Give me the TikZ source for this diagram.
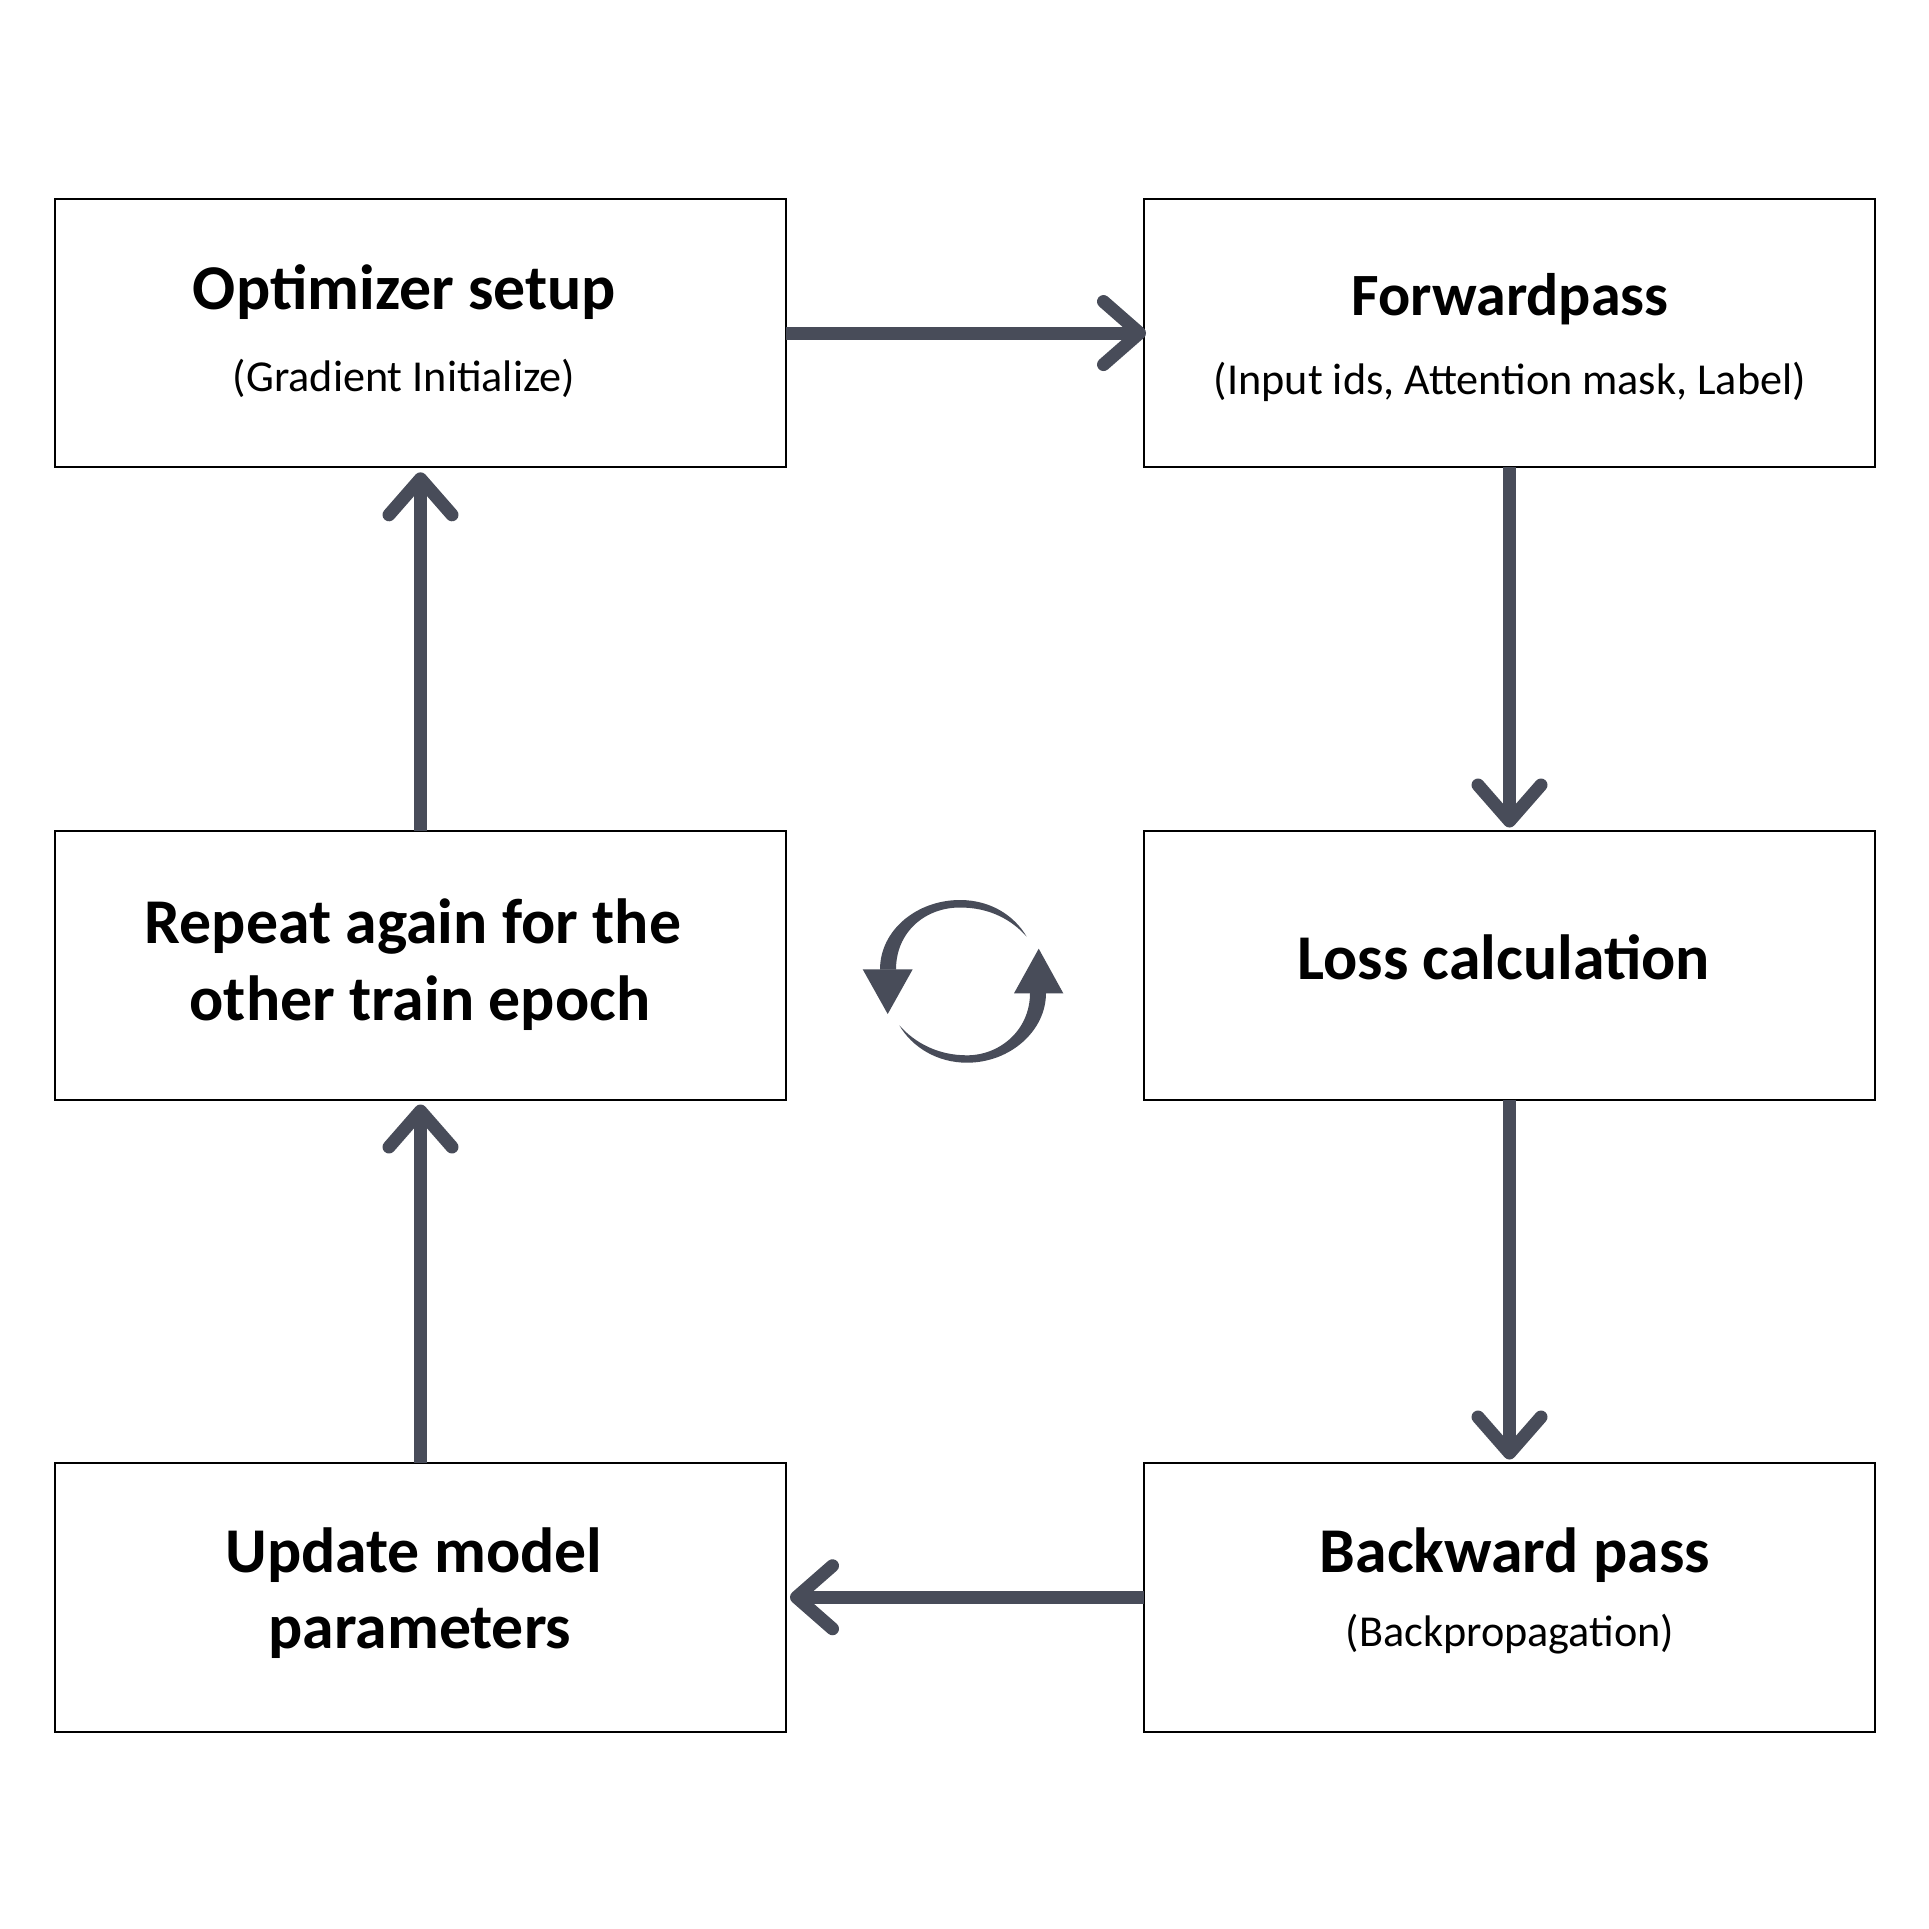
\documentclass[tikz,border=0pt]{standalone}
\usepackage{fontspec}
\setmainfont{Carlito}
\usetikzlibrary{arrows.meta}
\definecolor{slate}{HTML}{484C59}
\tikzset{
  stage/.style={draw=black,line width=2pt,fill=white,minimum width=731pt,minimum height=268.5pt,inner sep=0pt,outer sep=0pt,anchor=north west},
  headline/.style={font=\fontsize{63.8}{64}\selectfont\bfseries,anchor=base,inner sep=0pt},
  subline/.style={font=\fontsize{44.2}{44}\selectfont,anchor=base,inner sep=0pt},
  flow/.style={draw=slate,line width=13pt,-{Straight Barb[length=36pt,width=63pt,line width=13pt,round]}},
  turn/.style={fill=slate,draw=none}
}
\begin{document}
\begin{tikzpicture}[x=1pt,y=-1pt]
\useasboundingbox (0,0) rectangle (1929,1929);
\fill[white] (0,0) rectangle (1929,1929);

% process stages
\node[stage] (opt) at (55,198.8) {};
\node[stage] (fwd) at (1144,198.8) {};
\node[stage] (rep) at (55,831) {};
\node[stage] (loss) at (1144,831) {};
\node[stage] (upd) at (55,1463) {};
\node[stage] (back) at (1144,1463) {};

% stage labels
\node[headline] (optT) at (404.5,309.5) {Optimizer setup};
\node[subline] (optS) at (404,391.5) {(Gradient Initialize)};
\node[headline,font=\fontsize{60}{60}\selectfont\bfseries] (fwdT) at (1510,315.5) {Forwardpass};
\node[subline] (fwdS) at (1510,394.5) {(Input ids, Attention mask, Label)};
\node[headline] (repA) at (413,943.5) {Repeat again for the};
\node[headline] (repB) at (420,1020) {other train epoch};
\node[headline] (lossT) at (1503.5,979) {Loss calculation};
\node[headline] (updA) at (414,1572) {Update model};
\node[headline] (updB) at (420,1648.5) {parameters};
\node[headline] (backT) at (1515,1572) {Backward pass};
\node[subline] (backS) at (1510,1646.5) {(Backpropagation)};

% flow between stages
\draw[flow] (opt.east) -- ([xshift=2pt]fwd.west);
\draw[flow] (fwd.south) -- ([yshift=3.5pt]loss.north);
\draw[flow] (loss.south) -- ([yshift=3.5pt]back.north);
\draw[flow] (back.west) -- ([xshift=4pt]upd.east);
\draw[flow] (upd.north) -- ([yshift=-5pt]rep.south);
\draw[flow] (rep.north) -- ([yshift=-5pt]opt.south);

% circular repeat symbol
\fill[turn] (862.7,969.3) -- (912.7,969.3) -- (887.7,1014) -- cycle;
\fill[turn] (880,969.5) .. controls (880,930) and (917,900) .. (960,900)
  .. controls (990,900) and (1014,915) .. (1026.7,936.7)
  .. controls (1012,920) and (990,907.5) .. (960,907.5)
  .. controls (925,907.5) and (896,932) .. (896,969.5) -- cycle;
\fill[turn] (1014,993.3) -- (1063.3,993.3) -- (1038.7,948.7) -- cycle;
\fill[turn] (1046,993) .. controls (1046,1031) and (1010,1062.7) .. (967,1062.7)
  .. controls (937,1062.7) and (912,1047) .. (899.3,1025.3)
  .. controls (915,1043) and (938,1055.3) .. (967,1055.3)
  .. controls (1000,1055.3) and (1030,1030) .. (1030,993) -- cycle;
\end{tikzpicture}
\end{document}
